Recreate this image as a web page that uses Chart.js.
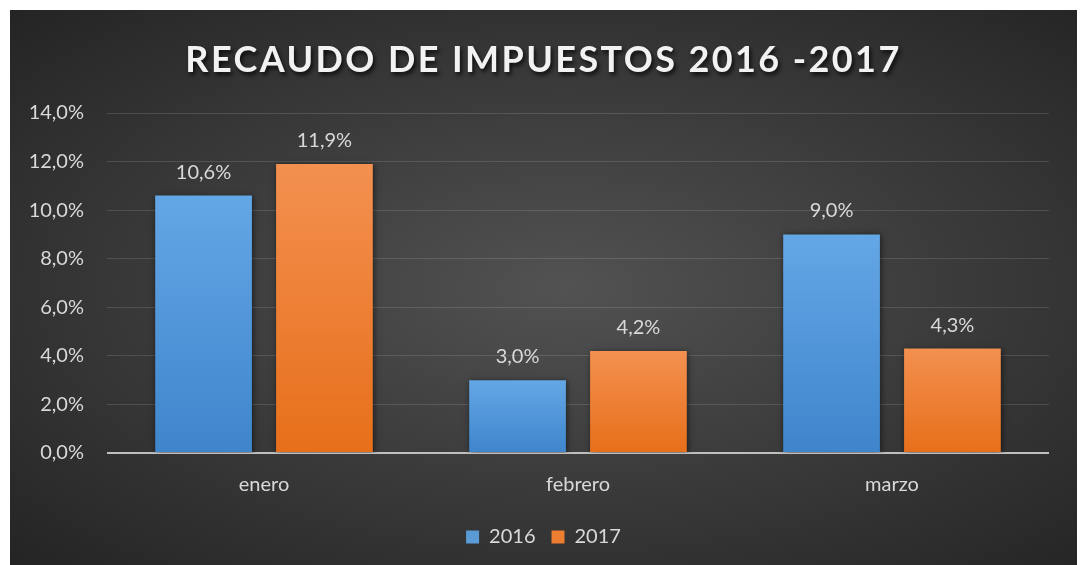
<!DOCTYPE html>
<html>
<head>
<meta charset="utf-8">
<script src="https://cdn.jsdelivr.net/npm/chart.js@4.4.1/dist/chart.umd.min.js"></script>
<style>
  html, body { margin: 0; padding: 0; background: #ffffff; }
  #panel {
    position: absolute; left: 10px; top: 10px; width: 1067px; height: 555px;
    background: radial-gradient(ellipse at 52% 50%, #525252 0%, #3d3d3d 45%, #242424 100%);
  }
  #title {
    position: absolute; left: 0; right: 0; top: 26px; text-align: center;
    font-family: Lato, sans-serif; font-weight: 700; font-size: 36px;
    letter-spacing: 2.4px; color: #f2f2f2;
    text-shadow: 2px 3px 4px rgba(0, 0, 0, 0.75);
  }
  #chartBox { position: absolute; left: 0; top: 0; width: 1067px; height: 555px; }
</style>
</head>
<body>
<div id="panel">
  <div id="chartBox"><canvas id="taxChart"></canvas></div>
  <div id="title">RECAUDO DE IMPUESTOS 2016 -2017</div>
</div>
<script>
const categories = ['enero', 'febrero', 'marzo'];
const seriesNames = ['2016', '2017'];
const values2016 = [10.6, 3.0, 9.0];
const values2017 = [11.9, 4.2, 4.3];
const yMax = 14;
const yStep = 2;

const fmtPct = (v) => v.toFixed(1).replace('.', ',') + '%';
const textColor = '#d9d9d9';
const fontFamily = 'Lato, sans-serif';

// vertical gradient per bar, lighter at the top
function barFill(top, bottom) {
    return function (context) {
        const chart = context.chart;
        if (!chart.chartArea || context.raw === undefined) return bottom;
        const y = chart.scales.y;
        const g = chart.ctx.createLinearGradient(0, y.getPixelForValue(context.raw), 0, y.getPixelForValue(0));
        g.addColorStop(0, top);
        g.addColorStop(1, bottom);
        return g;
    };
}

const barShadow = {
    id: 'barShadow',
    beforeDatasetsDraw(chart) {
        const ctx = chart.ctx;
        ctx.save();
        ctx.shadowColor = 'rgba(0, 0, 0, 0.55)';
        ctx.shadowBlur = 6;
        ctx.shadowOffsetX = 1;
        ctx.shadowOffsetY = 1;
    },
    afterDatasetsDraw(chart) {
        chart.ctx.restore();
    }
};

const valueLabels = {
    id: 'valueLabels',
    afterDatasetsDraw(chart) {
        const ctx = chart.ctx;
        ctx.save();
        ctx.font = '20px ' + fontFamily;
        ctx.fillStyle = textColor;
        ctx.textAlign = 'center';
        ctx.textBaseline = 'alphabetic';
        chart.data.datasets.forEach((ds, i) => {
            chart.getDatasetMeta(i).data.forEach((bar, j) => {
                ctx.fillText(fmtPct(ds.data[j]), bar.x, bar.y - 17);
            });
        });
        ctx.restore();
    }
};

const ctx = document.getElementById('taxChart').getContext('2d');
new Chart(ctx, {
    type: 'bar',
    data: {
        labels: categories,
        datasets: [
            {
                label: seriesNames[0],
                data: values2016,
                backgroundColor: barFill('#64a7e6', '#3e85cc'),
                legendColor: '#5b9bd5'
            },
            {
                label: seriesNames[1],
                data: values2017,
                backgroundColor: barFill('#f39050', '#e76f1a'),
                legendColor: '#ed7d31'
            }
        ]
    },
    options: {
        responsive: true,
        maintainAspectRatio: false,
        animation: false,
        categoryPercentage: 0.77,
        barPercentage: 0.8,
        layout: { padding: { top: 103, right: 0, left: 0, bottom: 8 } },
        plugins: {
            title: { display: false },
            tooltip: { enabled: false },
            legend: {
                position: 'bottom',
                labels: {
                    color: textColor,
                    font: { family: fontFamily, size: 20 },
                    boxWidth: 13,
                    boxHeight: 13,
                    padding: 16,
                    generateLabels: (chart) => chart.data.datasets.map((ds, i) => ({
                        text: ds.label,
                        fillStyle: ds.legendColor,
                        strokeStyle: ds.legendColor,
                        lineWidth: 0,
                        fontColor: textColor,
                        datasetIndex: i
                    }))
                }
            }
        },
        scales: {
            x: {
                grid: { display: false },
                border: { display: false },
                ticks: { color: textColor, font: { family: fontFamily, size: 20 }, padding: 12 },
                afterFit: (scale) => { scale.height = 58; }
            },
            y: {
                min: 0,
                max: yMax,
                border: { display: false },
                grid: {
                    drawTicks: false,
                    color: (c) => c.tick && c.tick.value === 0 ? '#bfbfbf' : 'rgba(255, 255, 255, 0.13)',
                    lineWidth: (c) => c.tick && c.tick.value === 0 ? 2 : 1
                },
                ticks: {
                    stepSize: yStep,
                    padding: 23,
                    color: textColor,
                    font: { family: fontFamily, size: 20 },
                    callback: (v) => fmtPct(v)
                },
                afterFit: (scale) => { scale.width = 97; }
            },
            // empty right-hand gutter so the legend stays centred on the panel
            gutter: {
                type: 'linear',
                axis: 'y',
                position: 'right',
                grid: { display: false, drawTicks: false },
                border: { display: false },
                ticks: { display: false },
                afterFit: (scale) => { scale.width = 28; }
            }
        }
    },
    plugins: [barShadow, valueLabels]
});
</script>
</body>
</html>
